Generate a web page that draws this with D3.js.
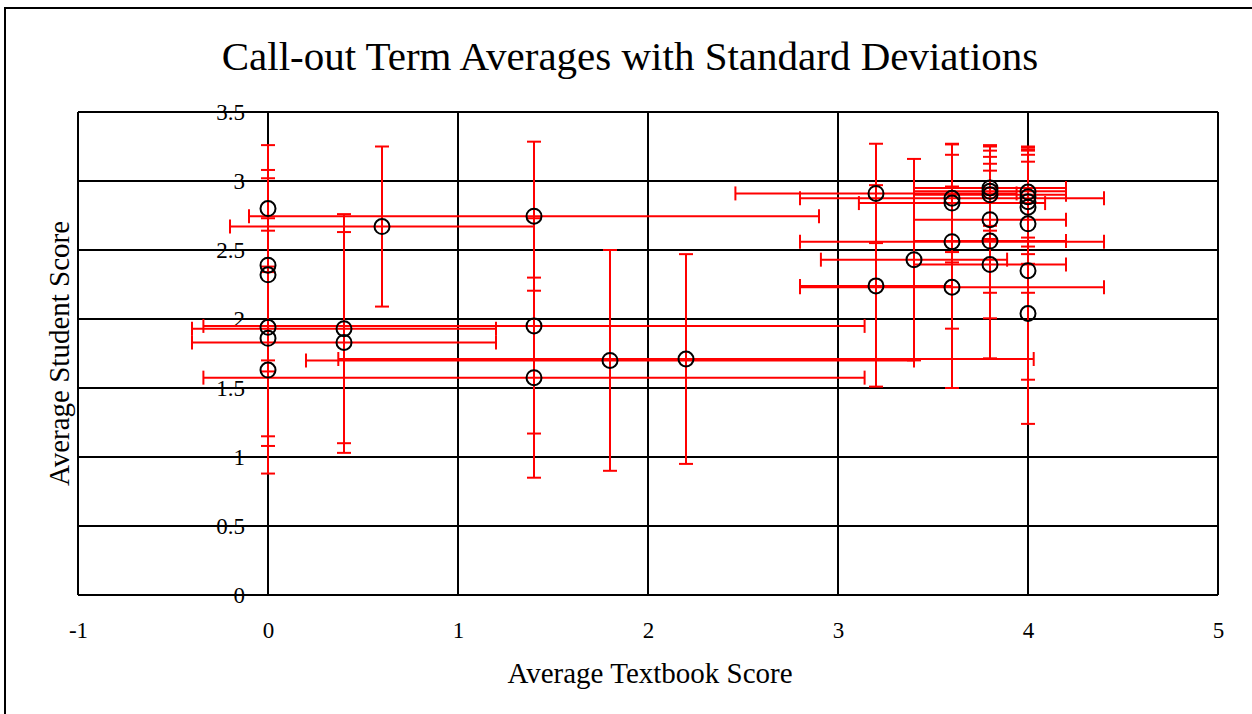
<!DOCTYPE html>
<html lang="en">
<head>
<meta charset="utf-8">
<title>Call-out Term Averages</title>
<script src="https://cdn.jsdelivr.net/npm/d3@7"></script>
<style>
    body {margin: 0; background: white;}
    svg {background: white;}
    text {font-family: "Palatino Linotype", "Book Antiqua", Palatino, "Liberation Serif", serif; fill: black;}
    .tick text {font-size: 23px;}
</style>
</head>
<body>
<script>
// textbook score (x) and student score (y), with standard deviations
var textbook  = [0, 0, 0, 0, 0, 0,
                 0.4, 0.4, 0.6,
                 1.4, 1.4, 1.4, 1.8, 2.2,
                 3.2, 3.2, 3.4,
                 3.6, 3.6, 3.6, 3.6,
                 3.8, 3.8, 3.8, 3.8, 3.8, 3.8,
                 4, 4, 4, 4, 4, 4, 4];
var student   = [2.80, 2.39, 2.32, 1.94, 1.86, 1.63,
                 1.93, 1.83, 2.67,
                 2.745, 1.95, 1.575, 1.70, 1.71,
                 2.91, 2.24, 2.43,
                 2.875, 2.84, 2.56, 2.23,
                 2.95, 2.925, 2.90, 2.72, 2.565, 2.395,
                 2.92, 2.885, 2.85, 2.81, 2.69, 2.35, 2.04];
var textbookSD = [0, 0, 0, 0, 0, 0,
                  0.8, 0.8, 0.8,
                  1.5, 1.74, 1.74, 1.6, 1.83,
                  0.74, 0.4, 0.49,
                  0.8, 0.49, 0.8, 0.8,
                  0.4, 0.4, 0.4, 0.4, 0.4, 0.4,
                  0, 0, 0, 0, 0, 0, 0];
var studentSD  = [0.46, 0.69, 0.70, 0.79, 0.78, 0.75,
                  0.83, 0.80, 0.58,
                  0.54, 0.78, 0.725, 0.80, 0.76,
                  0.36, 0.73, 0.73,
                  0.39, 0.43, 0.63, 0.73,
                  0.31, 0.25, 0.32, 0.53, 0.56, 0.68,
                  0.33, 0.36, 0.38, 0.41, 0.50, 0.79, 0.80];
var xTicks = [-1, 0, 1, 2, 3, 4, 5];
var yTicks = [0, 0.5, 1, 1.5, 2, 2.5, 3, 3.5];

var w = 1252, h = 714;
var plotLeft = 78, plotRight = 1218, plotTop = 112, plotBottom = 595;

var svg = d3.select("body").append("svg")
    .attr("width", w)
    .attr("height", h);

// outer frame
svg.append("rect")
    .attr("x", 5).attr("y", 8)
    .attr("width", 1260).attr("height", 720)
    .attr("fill", "none").attr("stroke", "black").attr("stroke-width", 2);

var xScale = d3.scaleLinear().domain([-1, 5]).range([plotLeft, plotRight]);
var yScale = d3.scaleLinear().domain([0, 3.5]).range([plotBottom, plotTop]);

// grid
svg.append("g").selectAll("line")
    .data(yTicks).enter().append("line")
    .attr("x1", plotLeft).attr("x2", plotRight)
    .attr("y1", function(d) {return yScale(d);})
    .attr("y2", function(d) {return yScale(d);})
    .attr("stroke", "black").attr("stroke-width", 2);

svg.append("g").selectAll("line")
    .data(xTicks).enter().append("line")
    .attr("y1", plotTop).attr("y2", plotBottom)
    .attr("x1", function(d) {return xScale(d);})
    .attr("x2", function(d) {return xScale(d);})
    .attr("stroke", "black").attr("stroke-width", 2);

// axes (labels only)
var xAxis = d3.axisBottom(xScale).tickValues(xTicks).tickSize(0).tickPadding(27)
    .tickFormat(function(d) {return String(d);});
svg.append("g")
    .attr("transform", "translate(0," + plotBottom + ")")
    .call(xAxis)
    .call(function(g) {g.select(".domain").remove();})
    .attr("font-family", null).attr("font-size", null);

var yAxis = d3.axisLeft(yScale).tickValues(yTicks).tickSize(0).tickPadding(23)
    .tickFormat(function(d) {return String(d);});
svg.append("g")
    .attr("transform", "translate(" + xScale(0) + ",0)")
    .call(yAxis)
    .call(function(g) {g.select(".domain").remove();})
    .attr("font-family", null).attr("font-size", null);

// error bars
var pts = textbook.map(function(d, i) {
    return {x: d, y: student[i], sx: textbookSD[i], sy: studentSD[i]};
});
var cap = 7;
var bars = svg.append("g").attr("stroke", "red").attr("stroke-width", 2);

pts.forEach(function(p) {
    var cx = xScale(p.x), cy = yScale(p.y);
    if (p.sy > 0) {
        var y1 = yScale(p.y + p.sy), y2 = yScale(p.y - p.sy);
        bars.append("line").attr("x1", cx).attr("x2", cx).attr("y1", y1).attr("y2", y2);
        bars.append("line").attr("x1", cx - cap).attr("x2", cx + cap).attr("y1", y1).attr("y2", y1);
        bars.append("line").attr("x1", cx - cap).attr("x2", cx + cap).attr("y1", y2).attr("y2", y2);
    }
    if (p.sx > 0) {
        var x1 = xScale(p.x - p.sx), x2 = xScale(p.x + p.sx);
        bars.append("line").attr("y1", cy).attr("y2", cy).attr("x1", x1).attr("x2", x2);
        bars.append("line").attr("y1", cy - cap).attr("y2", cy + cap).attr("x1", x1).attr("x2", x1);
        bars.append("line").attr("y1", cy - cap).attr("y2", cy + cap).attr("x1", x2).attr("x2", x2);
    }
});

// points
svg.append("g").selectAll("circle")
    .data(pts).enter().append("circle")
    .attr("cx", function(d) {return xScale(d.x);})
    .attr("cy", function(d) {return yScale(d.y);})
    .attr("r", 7.5)
    .attr("fill", "none")
    .attr("stroke", "black")
    .attr("stroke-width", 2);

// titles
svg.append("text")
    .attr("x", 630).attr("y", 70)
    .attr("text-anchor", "middle")
    .attr("font-size", 41)
    .text("Call-out Term Averages with Standard Deviations");

svg.append("text")
    .attr("x", 650).attr("y", 683)
    .attr("text-anchor", "middle")
    .attr("font-size", 29)
    .text("Average Textbook Score");

svg.append("text")
    .attr("transform", "translate(69," + ((plotTop + plotBottom) / 2) + ") rotate(-90)")
    .attr("text-anchor", "middle")
    .attr("font-size", 29)
    .text("Average Student Score");
</script>
</body>
</html>
